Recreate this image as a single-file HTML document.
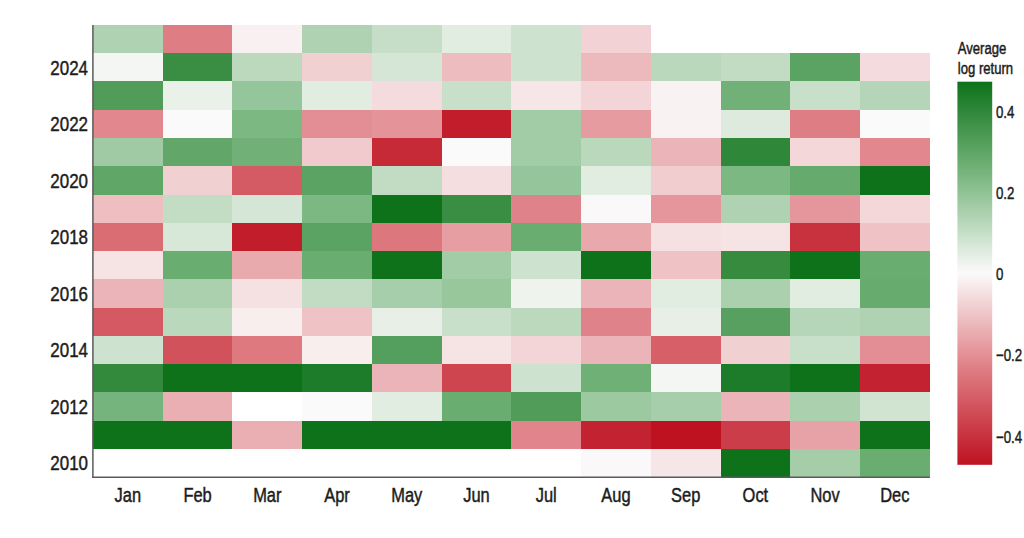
<!DOCTYPE html>
<html><head><meta charset="utf-8"><style>
html,body{margin:0;padding:0;background:#fff;}
body{width:1024px;height:538px;overflow:hidden;position:relative;}
svg{position:absolute;left:0;top:0;}
text{font-family:"Liberation Sans",sans-serif;fill:#1c1c1c;stroke:#1c1c1c;stroke-width:0.45px;}
</style></head><body>
<svg width="1024" height="538" viewBox="0 0 1024 538">
<defs><linearGradient id="cb" x1="0" y1="0" x2="0" y2="1">
<stop offset="0.000" stop-color="#0e721a"/>
<stop offset="0.050" stop-color="#24802f"/>
<stop offset="0.100" stop-color="#3a8e44"/>
<stop offset="0.150" stop-color="#509c58"/>
<stop offset="0.200" stop-color="#66aa6d"/>
<stop offset="0.250" stop-color="#7cb882"/>
<stop offset="0.300" stop-color="#95c59a"/>
<stop offset="0.350" stop-color="#afd2b2"/>
<stop offset="0.400" stop-color="#c8e0ca"/>
<stop offset="0.450" stop-color="#e2ede2"/>
<stop offset="0.500" stop-color="#fbfafa"/>
<stop offset="0.550" stop-color="#f5e1e2"/>
<stop offset="0.600" stop-color="#f0c8cb"/>
<stop offset="0.650" stop-color="#eaafb3"/>
<stop offset="0.700" stop-color="#e5969c"/>
<stop offset="0.750" stop-color="#df7d84"/>
<stop offset="0.800" stop-color="#d86870"/>
<stop offset="0.850" stop-color="#d2525c"/>
<stop offset="0.900" stop-color="#cb3d48"/>
<stop offset="0.950" stop-color="#c52734"/>
<stop offset="1.000" stop-color="#be1220"/>
</linearGradient></defs>
<g shape-rendering="crispEdges">
<rect x="93.00" y="24.90" width="70.33" height="28.87" fill="#afd2b2"/>
<rect x="162.73" y="24.90" width="70.33" height="28.87" fill="#df7d84"/>
<rect x="232.45" y="24.90" width="70.33" height="28.87" fill="#f9f0f1"/>
<rect x="302.18" y="24.90" width="70.33" height="28.87" fill="#afd2b2"/>
<rect x="371.90" y="24.90" width="70.33" height="28.87" fill="#c6dec8"/>
<rect x="441.63" y="24.90" width="70.33" height="28.87" fill="#e2ede2"/>
<rect x="511.35" y="24.90" width="70.33" height="28.87" fill="#cde2cf"/>
<rect x="581.08" y="24.90" width="70.33" height="28.87" fill="#f2d2d4"/>
<rect x="93.00" y="53.17" width="70.33" height="28.87" fill="#f3f6f3"/>
<rect x="162.73" y="53.17" width="70.33" height="28.87" fill="#3a8e44"/>
<rect x="232.45" y="53.17" width="70.33" height="28.87" fill="#bcd9be"/>
<rect x="302.18" y="53.17" width="70.33" height="28.87" fill="#f1d0d2"/>
<rect x="371.90" y="53.17" width="70.33" height="28.87" fill="#d5e6d6"/>
<rect x="441.63" y="53.17" width="70.33" height="28.87" fill="#edbcbf"/>
<rect x="511.35" y="53.17" width="70.33" height="28.87" fill="#cde2cf"/>
<rect x="581.08" y="53.17" width="70.33" height="28.87" fill="#ecb9bd"/>
<rect x="650.80" y="53.17" width="70.33" height="28.87" fill="#b9d8bc"/>
<rect x="720.53" y="53.17" width="70.33" height="28.87" fill="#c1dcc3"/>
<rect x="790.25" y="53.17" width="70.33" height="28.87" fill="#5ba363"/>
<rect x="859.98" y="53.17" width="70.33" height="28.87" fill="#f4dcde"/>
<rect x="93.00" y="81.44" width="70.33" height="28.87" fill="#509c58"/>
<rect x="162.73" y="81.44" width="70.33" height="28.87" fill="#e9f1e9"/>
<rect x="232.45" y="81.44" width="70.33" height="28.87" fill="#95c59a"/>
<rect x="302.18" y="81.44" width="70.33" height="28.87" fill="#e2ede2"/>
<rect x="371.90" y="81.44" width="70.33" height="28.87" fill="#f4dcde"/>
<rect x="441.63" y="81.44" width="70.33" height="28.87" fill="#c8e0ca"/>
<rect x="511.35" y="81.44" width="70.33" height="28.87" fill="#f7e6e7"/>
<rect x="581.08" y="81.44" width="70.33" height="28.87" fill="#f3d4d7"/>
<rect x="650.80" y="81.44" width="70.33" height="28.87" fill="#f9f2f3"/>
<rect x="720.53" y="81.44" width="70.33" height="28.87" fill="#71b178"/>
<rect x="790.25" y="81.44" width="70.33" height="28.87" fill="#c8e0ca"/>
<rect x="859.98" y="81.44" width="70.33" height="28.87" fill="#b4d5b7"/>
<rect x="93.00" y="109.71" width="70.33" height="28.87" fill="#e1878d"/>
<rect x="162.73" y="109.71" width="70.33" height="28.87" fill="#fbfafa"/>
<rect x="232.45" y="109.71" width="70.33" height="28.87" fill="#7cb882"/>
<rect x="302.18" y="109.71" width="70.33" height="28.87" fill="#e38e95"/>
<rect x="371.90" y="109.71" width="70.33" height="28.87" fill="#e49499"/>
<rect x="441.63" y="109.71" width="70.33" height="28.87" fill="#c11d2a"/>
<rect x="511.35" y="109.71" width="70.33" height="28.87" fill="#a2cca6"/>
<rect x="581.08" y="109.71" width="70.33" height="28.87" fill="#e69ba0"/>
<rect x="650.80" y="109.71" width="70.33" height="28.87" fill="#f9f2f3"/>
<rect x="720.53" y="109.71" width="70.33" height="28.87" fill="#ddeadd"/>
<rect x="790.25" y="109.71" width="70.33" height="28.87" fill="#df7d84"/>
<rect x="859.98" y="109.71" width="70.33" height="28.87" fill="#fbfafa"/>
<rect x="93.00" y="137.97" width="70.33" height="28.87" fill="#a0caa4"/>
<rect x="162.73" y="137.97" width="70.33" height="28.87" fill="#62a769"/>
<rect x="232.45" y="137.97" width="70.33" height="28.87" fill="#71b178"/>
<rect x="302.18" y="137.97" width="70.33" height="28.87" fill="#f0cacd"/>
<rect x="371.90" y="137.97" width="70.33" height="28.87" fill="#c52a36"/>
<rect x="441.63" y="137.97" width="70.33" height="28.87" fill="#fbfafa"/>
<rect x="511.35" y="137.97" width="70.33" height="28.87" fill="#a2cca6"/>
<rect x="581.08" y="137.97" width="70.33" height="28.87" fill="#b9d8bc"/>
<rect x="650.80" y="137.97" width="70.33" height="28.87" fill="#ebb4b8"/>
<rect x="720.53" y="137.97" width="70.33" height="28.87" fill="#2f8739"/>
<rect x="790.25" y="137.97" width="70.33" height="28.87" fill="#f3d7d9"/>
<rect x="859.98" y="137.97" width="70.33" height="28.87" fill="#e1878d"/>
<rect x="93.00" y="166.24" width="70.33" height="28.87" fill="#5fa667"/>
<rect x="162.73" y="166.24" width="70.33" height="28.87" fill="#f1d0d2"/>
<rect x="232.45" y="166.24" width="70.33" height="28.87" fill="#d45b64"/>
<rect x="302.18" y="166.24" width="70.33" height="28.87" fill="#5ba363"/>
<rect x="371.90" y="166.24" width="70.33" height="28.87" fill="#c1dcc3"/>
<rect x="441.63" y="166.24" width="70.33" height="28.87" fill="#f5dee0"/>
<rect x="511.35" y="166.24" width="70.33" height="28.87" fill="#95c59a"/>
<rect x="581.08" y="166.24" width="70.33" height="28.87" fill="#e2ede2"/>
<rect x="650.80" y="166.24" width="70.33" height="28.87" fill="#f1cdd0"/>
<rect x="720.53" y="166.24" width="70.33" height="28.87" fill="#7cb882"/>
<rect x="790.25" y="166.24" width="70.33" height="28.87" fill="#66aa6d"/>
<rect x="859.98" y="166.24" width="70.33" height="28.87" fill="#0e721a"/>
<rect x="93.00" y="194.51" width="70.33" height="28.87" fill="#eebec1"/>
<rect x="162.73" y="194.51" width="70.33" height="28.87" fill="#c3ddc5"/>
<rect x="232.45" y="194.51" width="70.33" height="28.87" fill="#d5e6d6"/>
<rect x="302.18" y="194.51" width="70.33" height="28.87" fill="#7cb882"/>
<rect x="371.90" y="194.51" width="70.33" height="28.87" fill="#0e721a"/>
<rect x="441.63" y="194.51" width="70.33" height="28.87" fill="#3a8e44"/>
<rect x="511.35" y="194.51" width="70.33" height="28.87" fill="#e08289"/>
<rect x="581.08" y="194.51" width="70.33" height="28.87" fill="#faf8f8"/>
<rect x="650.80" y="194.51" width="70.33" height="28.87" fill="#e5969c"/>
<rect x="720.53" y="194.51" width="70.33" height="28.87" fill="#afd2b2"/>
<rect x="790.25" y="194.51" width="70.33" height="28.87" fill="#e5969c"/>
<rect x="859.98" y="194.51" width="70.33" height="28.87" fill="#f3d7d9"/>
<rect x="93.00" y="222.78" width="70.33" height="28.87" fill="#da6c74"/>
<rect x="162.73" y="222.78" width="70.33" height="28.87" fill="#d7e8d8"/>
<rect x="232.45" y="222.78" width="70.33" height="28.87" fill="#c11d2a"/>
<rect x="302.18" y="222.78" width="70.33" height="28.87" fill="#5ba363"/>
<rect x="371.90" y="222.78" width="70.33" height="28.87" fill="#dd777e"/>
<rect x="441.63" y="222.78" width="70.33" height="28.87" fill="#e69ea3"/>
<rect x="511.35" y="222.78" width="70.33" height="28.87" fill="#6aad71"/>
<rect x="581.08" y="222.78" width="70.33" height="28.87" fill="#e9a8ac"/>
<rect x="650.80" y="222.78" width="70.33" height="28.87" fill="#f5e1e2"/>
<rect x="720.53" y="222.78" width="70.33" height="28.87" fill="#f6e4e5"/>
<rect x="790.25" y="222.78" width="70.33" height="28.87" fill="#c8323e"/>
<rect x="859.98" y="222.78" width="70.33" height="28.87" fill="#efc3c6"/>
<rect x="93.00" y="251.05" width="70.33" height="28.87" fill="#f6e4e5"/>
<rect x="162.73" y="251.05" width="70.33" height="28.87" fill="#6aad71"/>
<rect x="232.45" y="251.05" width="70.33" height="28.87" fill="#e9aaae"/>
<rect x="302.18" y="251.05" width="70.33" height="28.87" fill="#6aad71"/>
<rect x="371.90" y="251.05" width="70.33" height="28.87" fill="#0e721a"/>
<rect x="441.63" y="251.05" width="70.33" height="28.87" fill="#a2cca6"/>
<rect x="511.35" y="251.05" width="70.33" height="28.87" fill="#cde2cf"/>
<rect x="581.08" y="251.05" width="70.33" height="28.87" fill="#0e721a"/>
<rect x="650.80" y="251.05" width="70.33" height="28.87" fill="#efc3c6"/>
<rect x="720.53" y="251.05" width="70.33" height="28.87" fill="#368b3f"/>
<rect x="790.25" y="251.05" width="70.33" height="28.87" fill="#0e721a"/>
<rect x="859.98" y="251.05" width="70.33" height="28.87" fill="#6aad71"/>
<rect x="93.00" y="279.32" width="70.33" height="28.87" fill="#ebb4b8"/>
<rect x="162.73" y="279.32" width="70.33" height="28.87" fill="#aad0ad"/>
<rect x="232.45" y="279.32" width="70.33" height="28.87" fill="#f5e1e2"/>
<rect x="302.18" y="279.32" width="70.33" height="28.87" fill="#c1dcc3"/>
<rect x="371.90" y="279.32" width="70.33" height="28.87" fill="#a7ceab"/>
<rect x="441.63" y="279.32" width="70.33" height="28.87" fill="#98c79c"/>
<rect x="511.35" y="279.32" width="70.33" height="28.87" fill="#eef3ee"/>
<rect x="581.08" y="279.32" width="70.33" height="28.87" fill="#ebb4b8"/>
<rect x="650.80" y="279.32" width="70.33" height="28.87" fill="#e2ede2"/>
<rect x="720.53" y="279.32" width="70.33" height="28.87" fill="#aad0ad"/>
<rect x="790.25" y="279.32" width="70.33" height="28.87" fill="#e2ede2"/>
<rect x="859.98" y="279.32" width="70.33" height="28.87" fill="#68ab6f"/>
<rect x="93.00" y="307.59" width="70.33" height="28.87" fill="#d45962"/>
<rect x="162.73" y="307.59" width="70.33" height="28.87" fill="#b9d8bc"/>
<rect x="232.45" y="307.59" width="70.33" height="28.87" fill="#f8eeee"/>
<rect x="302.18" y="307.59" width="70.33" height="28.87" fill="#efc3c6"/>
<rect x="371.90" y="307.59" width="70.33" height="28.87" fill="#e7efe7"/>
<rect x="441.63" y="307.59" width="70.33" height="28.87" fill="#c8e0ca"/>
<rect x="511.35" y="307.59" width="70.33" height="28.87" fill="#bcd9be"/>
<rect x="581.08" y="307.59" width="70.33" height="28.87" fill="#e08289"/>
<rect x="650.80" y="307.59" width="70.33" height="28.87" fill="#e7efe7"/>
<rect x="720.53" y="307.59" width="70.33" height="28.87" fill="#57a05f"/>
<rect x="790.25" y="307.59" width="70.33" height="28.87" fill="#b6d6b9"/>
<rect x="859.98" y="307.59" width="70.33" height="28.87" fill="#afd2b2"/>
<rect x="93.00" y="335.86" width="70.33" height="28.87" fill="#cde2cf"/>
<rect x="162.73" y="335.86" width="70.33" height="28.87" fill="#d2525c"/>
<rect x="232.45" y="335.86" width="70.33" height="28.87" fill="#de7980"/>
<rect x="302.18" y="335.86" width="70.33" height="28.87" fill="#f8eeee"/>
<rect x="371.90" y="335.86" width="70.33" height="28.87" fill="#549f5d"/>
<rect x="441.63" y="335.86" width="70.33" height="28.87" fill="#f6e4e5"/>
<rect x="511.35" y="335.86" width="70.33" height="28.87" fill="#f3d4d7"/>
<rect x="581.08" y="335.86" width="70.33" height="28.87" fill="#ebb4b8"/>
<rect x="650.80" y="335.86" width="70.33" height="28.87" fill="#d65f68"/>
<rect x="720.53" y="335.86" width="70.33" height="28.87" fill="#f1d0d2"/>
<rect x="790.25" y="335.86" width="70.33" height="28.87" fill="#c8e0ca"/>
<rect x="859.98" y="335.86" width="70.33" height="28.87" fill="#e38e95"/>
<rect x="93.00" y="364.12" width="70.33" height="28.87" fill="#338a3d"/>
<rect x="162.73" y="364.12" width="70.33" height="28.87" fill="#0e721a"/>
<rect x="232.45" y="364.12" width="70.33" height="28.87" fill="#0e721a"/>
<rect x="302.18" y="364.12" width="70.33" height="28.87" fill="#1d7c29"/>
<rect x="371.90" y="364.12" width="70.33" height="28.87" fill="#ebb4b8"/>
<rect x="441.63" y="364.12" width="70.33" height="28.87" fill="#ce4550"/>
<rect x="511.35" y="364.12" width="70.33" height="28.87" fill="#cde2cf"/>
<rect x="581.08" y="364.12" width="70.33" height="28.87" fill="#6fb076"/>
<rect x="650.80" y="364.12" width="70.33" height="28.87" fill="#f3f6f3"/>
<rect x="720.53" y="364.12" width="70.33" height="28.87" fill="#1d7c29"/>
<rect x="790.25" y="364.12" width="70.33" height="28.87" fill="#0e721a"/>
<rect x="859.98" y="364.12" width="70.33" height="28.87" fill="#c32330"/>
<rect x="93.00" y="392.39" width="70.33" height="28.87" fill="#75b47c"/>
<rect x="162.73" y="392.39" width="70.33" height="28.87" fill="#eaafb3"/>
<rect x="232.45" y="392.39" width="70.33" height="28.87" fill="#ffffff"/>
<rect x="302.18" y="392.39" width="70.33" height="28.87" fill="#fbfafa"/>
<rect x="371.90" y="392.39" width="70.33" height="28.87" fill="#e2ede2"/>
<rect x="441.63" y="392.39" width="70.33" height="28.87" fill="#6aad71"/>
<rect x="511.35" y="392.39" width="70.33" height="28.87" fill="#509c58"/>
<rect x="581.08" y="392.39" width="70.33" height="28.87" fill="#9dc9a1"/>
<rect x="650.80" y="392.39" width="70.33" height="28.87" fill="#a7ceab"/>
<rect x="720.53" y="392.39" width="70.33" height="28.87" fill="#ebb4b8"/>
<rect x="790.25" y="392.39" width="70.33" height="28.87" fill="#aad0ad"/>
<rect x="859.98" y="392.39" width="70.33" height="28.87" fill="#d0e4d1"/>
<rect x="93.00" y="420.66" width="70.33" height="28.87" fill="#0e721a"/>
<rect x="162.73" y="420.66" width="70.33" height="28.87" fill="#0e721a"/>
<rect x="232.45" y="420.66" width="70.33" height="28.87" fill="#eaafb3"/>
<rect x="302.18" y="420.66" width="70.33" height="28.87" fill="#0e721a"/>
<rect x="371.90" y="420.66" width="70.33" height="28.87" fill="#0e721a"/>
<rect x="441.63" y="420.66" width="70.33" height="28.87" fill="#0e721a"/>
<rect x="511.35" y="420.66" width="70.33" height="28.87" fill="#e1848b"/>
<rect x="581.08" y="420.66" width="70.33" height="28.87" fill="#c32330"/>
<rect x="650.80" y="420.66" width="70.33" height="28.87" fill="#be1220"/>
<rect x="720.53" y="420.66" width="70.33" height="28.87" fill="#cb3d48"/>
<rect x="790.25" y="420.66" width="70.33" height="28.87" fill="#e7a2a7"/>
<rect x="859.98" y="420.66" width="70.33" height="28.87" fill="#0e721a"/>
<rect x="93.00" y="448.93" width="70.33" height="28.87" fill="#ffffff"/>
<rect x="162.73" y="448.93" width="70.33" height="28.87" fill="#ffffff"/>
<rect x="232.45" y="448.93" width="70.33" height="28.87" fill="#ffffff"/>
<rect x="302.18" y="448.93" width="70.33" height="28.87" fill="#ffffff"/>
<rect x="371.90" y="448.93" width="70.33" height="28.87" fill="#ffffff"/>
<rect x="441.63" y="448.93" width="70.33" height="28.87" fill="#ffffff"/>
<rect x="511.35" y="448.93" width="70.33" height="28.87" fill="#ffffff"/>
<rect x="581.08" y="448.93" width="70.33" height="28.87" fill="#faf8f8"/>
<rect x="650.80" y="448.93" width="70.33" height="28.87" fill="#f7e6e7"/>
<rect x="720.53" y="448.93" width="70.33" height="28.87" fill="#0e721a"/>
<rect x="790.25" y="448.93" width="70.33" height="28.87" fill="#a5cda8"/>
<rect x="859.98" y="448.93" width="70.33" height="28.87" fill="#6aad71"/>
</g>
<line x1="92.90" y1="24.90" x2="92.90" y2="478.00" stroke="#5a5a5a" stroke-width="1.5"/>
<line x1="92.10" y1="477.20" x2="929.70" y2="477.20" stroke="#5a5a5a" stroke-width="1.5"/>
<rect x="957.4" y="81.7" width="34.8" height="383.10" fill="url(#cb)"/>
<text x="0" y="74.70" font-size="20.2" text-anchor="end" transform="translate(88.00,0) scale(0.84,1)">2024</text>
<text x="0" y="131.24" font-size="20.2" text-anchor="end" transform="translate(88.00,0) scale(0.84,1)">2022</text>
<text x="0" y="187.78" font-size="20.2" text-anchor="end" transform="translate(88.00,0) scale(0.84,1)">2020</text>
<text x="0" y="244.32" font-size="20.2" text-anchor="end" transform="translate(88.00,0) scale(0.84,1)">2018</text>
<text x="0" y="300.85" font-size="20.2" text-anchor="end" transform="translate(88.00,0) scale(0.84,1)">2016</text>
<text x="0" y="357.39" font-size="20.2" text-anchor="end" transform="translate(88.00,0) scale(0.84,1)">2014</text>
<text x="0" y="413.93" font-size="20.2" text-anchor="end" transform="translate(88.00,0) scale(0.84,1)">2012</text>
<text x="0" y="470.47" font-size="20.2" text-anchor="end" transform="translate(88.00,0) scale(0.84,1)">2010</text>
<text x="0" y="502.40" font-size="19.6" text-anchor="middle" transform="translate(127.86,0) scale(0.84,1)">Jan</text>
<text x="0" y="502.40" font-size="19.6" text-anchor="middle" transform="translate(197.59,0) scale(0.84,1)">Feb</text>
<text x="0" y="502.40" font-size="19.6" text-anchor="middle" transform="translate(267.31,0) scale(0.84,1)">Mar</text>
<text x="0" y="502.40" font-size="19.6" text-anchor="middle" transform="translate(337.04,0) scale(0.84,1)">Apr</text>
<text x="0" y="502.40" font-size="19.6" text-anchor="middle" transform="translate(406.76,0) scale(0.84,1)">May</text>
<text x="0" y="502.40" font-size="19.6" text-anchor="middle" transform="translate(476.49,0) scale(0.84,1)">Jun</text>
<text x="0" y="502.40" font-size="19.6" text-anchor="middle" transform="translate(546.21,0) scale(0.84,1)">Jul</text>
<text x="0" y="502.40" font-size="19.6" text-anchor="middle" transform="translate(615.94,0) scale(0.84,1)">Aug</text>
<text x="0" y="502.40" font-size="19.6" text-anchor="middle" transform="translate(685.66,0) scale(0.84,1)">Sep</text>
<text x="0" y="502.40" font-size="19.6" text-anchor="middle" transform="translate(755.39,0) scale(0.84,1)">Oct</text>
<text x="0" y="502.40" font-size="19.6" text-anchor="middle" transform="translate(825.11,0) scale(0.84,1)">Nov</text>
<text x="0" y="502.40" font-size="19.6" text-anchor="middle" transform="translate(894.84,0) scale(0.84,1)">Dec</text>
<text x="0" y="117.80" font-size="17" text-anchor="start" transform="translate(996.00,0) scale(0.78,1)">0.4</text>
<text x="0" y="199.10" font-size="17" text-anchor="start" transform="translate(996.00,0) scale(0.78,1)">0.2</text>
<text x="0" y="280.30" font-size="17" text-anchor="start" transform="translate(996.00,0) scale(0.78,1)">0</text>
<text x="0" y="361.40" font-size="17" text-anchor="start" transform="translate(996.00,0) scale(0.78,1)">−0.2</text>
<text x="0" y="443.50" font-size="17" text-anchor="start" transform="translate(996.00,0) scale(0.78,1)">−0.4</text>
<text x="0" y="53.60" font-size="15.6" text-anchor="start" transform="translate(957.80,0) scale(0.84,1)">Average</text>
<text x="0" y="74.20" font-size="15.6" text-anchor="start" transform="translate(957.80,0) scale(0.84,1)">log return</text>
</svg>
</body></html>
